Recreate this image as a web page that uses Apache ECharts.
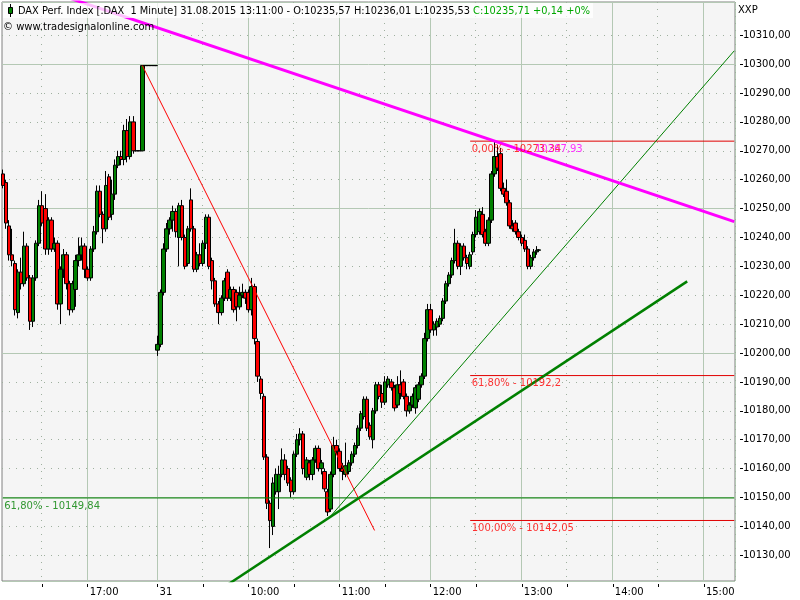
<!DOCTYPE html>
<html><head><meta charset="utf-8">
<script src="https://cdn.jsdelivr.net/npm/echarts@6/dist/echarts.min.js"></script>
<style>html,body{margin:0;padding:0;background:#fff}#c{width:800px;height:600px}</style>
</head><body><div id="c"></div>
<script>
// ---- time axis (two sessions, one category per minute) ----
const session1Start = '16:04', session1End = '17:45';
const session2Start = '09:00', session2End = '15:20';
const dayLabel = '31';
const majorTicks = ['17:00','09:00','10:00','11:00','12:00','13:00','14:00','15:00'];
const minorTicks = ['16:30','09:30','10:30','11:30','12:30','13:30','14:30'];
const yTickValues = [10130,10140,10150,10160,10170,10180,10190,10200,10210,10220,10230,10240,10250,10260,10270,10280,10290,10300,10310];
const yMin = 10121.1, yMax = 10321.5;

// ---- candles: [time, open, close, low, high] ----
const session1Bars = [
['16:04',10262,10258,10257,10263.5],['16:06',10259,10245,10243,10260],['16:08',10244,10234,10232,10246],
['16:10',10234,10232,10230,10243],['16:12',10231,10215,10213,10232],['16:14',10214,10228,10212,10229],
['16:16',10228,10224,10222,10233],['16:18',10224,10237,10223,10242],['16:20',10237,10226,10225,10238],
['16:22',10226,10211,10208,10227],['16:24',10211,10226,10209,10227],['16:26',10226,10238,10225,10239],
['16:28',10238,10251,10237,10253],['16:30',10251,10245,10244,10256],['16:32',10250,10236,10234,10255],
['16:34',10236,10246,10234,10247],['16:36',10246,10236,10235,10247],['16:38',10236,10238,10235,10240],
['16:40',10238,10217,10215,10239],['16:42',10217,10229,10210,10230],['16:44',10229,10234,10226,10236],
['16:46',10234,10224,10222,10235],['16:48',10224,10215,10213,10225],['16:50',10215,10224,10214,10225],
['16:52',10222,10232,10216,10234],['16:54',10232,10234,10230,10240],['16:56',10234,10237,10232,10240],
['16:58',10237,10229,10226,10238],['17:00',10229,10226,10225,10230],['17:02',10226,10236,10225,10237],
['17:04',10236,10242,10235,10244],['17:06',10242,10256,10241,10258],['17:08',10256,10248,10247,10258],
['17:10',10248,10243,10238,10249],['17:12',10243,10258,10242,10263],['17:14',10261,10247,10246,10262],
['17:16',10248,10255,10246,10260],['17:18',10255,10265,10253,10267],['17:20',10265,10268,10264,10270],
['17:22',10268,10267,10265,10270],['17:24',10267,10277,10265,10279],['17:26',10277,10268,10266,10281],
['17:28',10268,10280,10267,10282],['17:30',10280,10270,10269,10282],['17:32',10270,10270,10270,10270],
['17:34',10270,10270,10270,10270],['17:36',10270,10299.5,10270,10299.5],['17:38',10299.5,10299.5,10299.5,10299.5],
['17:40',10299.5,10299.5,10299.5,10299.5],['17:42',10299.5,10299.5,10299.5,10299.5],['17:44',10299.5,10299.5,10299.5,10299.5],
['17:45',10299.5,10299.5,10299.5,10299.5]
];
const session2Bars = [
['09:00',10201,10203,10199,10206],['09:02',10203,10221,10202,10222],['09:04',10221,10236,10220,10238],
['09:06',10236,10243,10235,10245],['09:08',10243,10246,10241,10247],['09:10',10246,10249,10242,10251],
['09:12',10249,10242,10240,10250],['09:14',10240,10251,10230,10252],['09:16',10251,10240,10239,10253],
['09:18',10240,10230,10229,10241],['09:20',10231,10243,10230,10244],['09:22',10253,10243,10242,10257],
['09:24',10243,10229,10228,10244],['09:26',10229,10234,10228,10235],['09:28',10234,10231,10230,10238],
['09:30',10231,10238,10230,10239],['09:32',10238,10247,10236,10248],['09:34',10247,10230,10229,10248],
['09:36',10232,10225,10222,10233],['09:38',10225,10217,10216,10226],['09:40',10217,10214,10210,10218],
['09:42',10214,10219,10213,10220],['09:44',10219,10225,10218,10226],['09:46',10228,10219,10218,10229],
['09:48',10219,10222,10218,10223],['09:50',10222,10215,10214,10223],['09:52',10221,10216,10211,10222],
['09:54',10216,10220,10215,10223],['09:56',10220,10221,10219,10224],['09:58',10221,10219,10217,10222],
['10:00',10221,10215,10214,10222],['10:02',10215,10223,10213,10226],['10:04',10223,10205,10203,10224],
['10:06',10204,10192,10190,10205],['10:08',10191,10186,10184,10192],['10:10',10185,10164,10163,10186],
['10:12',10164,10148,10146,10165],['10:14',10148,10142,10132.5,10149],['10:16',10140,10155,10137,10157],
['10:18',10152,10158,10151,10160],['10:20',10152,10158,10146,10161],['10:22',10158,10163,10157,10167],
['10:24',10163,10158,10156,10165],['10:26',10160,10155,10154,10161],['10:28',10156,10152,10150,10157],
['10:30',10152,10165,10151,10166],['10:32',10165,10170,10164,10172],['10:34',10170,10172,10168,10174],
['10:36',10172,10160,10158,10173],['10:38',10157,10163,10156,10164],['10:40',10162,10158,10156,10163],
['10:42',10158,10163,10156,10164],['10:44',10163,10167,10162,10168],['10:46',10167,10160,10159,10168],
['10:48',10160,10162,10158,10163],['10:50',10159,10153,10152,10160],['10:52',10152,10145,10143.6,10153],
['10:54',10146,10158,10145,10159],['10:56',10158,10168,10157,10171],['10:58',10168,10166,10165,10170],
['11:00',10166,10160,10159,10167],['11:02',10160,10159,10156,10162],['11:04',10158,10161,10157,10169],
['11:06',10159,10162,10158,10163],['11:08',10162,10165,10161,10166],['11:10',10165,10168,10164,10169],
['11:12',10168,10174,10167,10175],['11:14',10174,10179,10173,10180],['11:16',10178,10184,10177,10185],
['11:18',10184,10174,10173,10185],['11:20',10175,10171,10170,10176],['11:22',10170,10180,10167,10181],
['11:24',10180,10189,10179,10190],['11:26',10189,10185,10184,10190],['11:28',10186,10183,10181,10189],
['11:30',10183,10190,10182,10192],['11:32',10189,10191,10188,10192],['11:34',10190,10188,10187,10191],
['11:36',10188,10181,10180,10189],['11:38',10182,10189,10181,10192],['11:40',10189,10186,10184,10194],
['11:42',10190,10185,10184,10191],['11:44',10185,10180,10178,10186],['11:46',10180,10182,10179,10183],
['11:48',10182,10185,10181,10186],['11:50',10181,10188,10179,10189],['11:52',10184,10189,10183,10190],
['11:54',10189,10192,10188,10193],['11:56',10192,10205,10191,10207],['11:58',10205,10215,10204,10217],
['12:00',10215,10208,10207,10217],['12:02',10208,10210,10206,10211],['12:04',10209,10211,10206,10212],
['12:06',10210,10212,10209,10213],['12:08',10212,10218,10211,10219],['12:10',10218,10224,10217,10225],
['12:12',10224,10227,10223,10228],['12:14',10227,10232,10226,10233],['12:16',10232,10238,10231,10243],
['12:18',10238,10230,10229,10239],['12:20',10230,10237,10227,10238],['12:22',10237,10233,10232,10238],
['12:24',10233,10231,10229,10234],['12:26',10230,10234,10229,10235],['12:28',10235,10241,10234,10242],
['12:30',10241,10247,10240,10249.5],['12:32',10242,10249,10241,10250],['12:34',10248,10241,10240,10250.5],
['12:36',10242,10238,10237,10243],['12:38',10238,10246,10237,10247],['12:40',10246,10262,10245,10263],
['12:42',10262,10268,10261,10273.3],['12:44',10268,10264,10263,10272],['12:46',10269,10257,10256,10271],
['12:48',10257,10255,10254,10259],['12:50',10256,10252,10251,10260],['12:52',10252,10244,10243,10253],
['12:54',10244,10243,10242,10246],['12:56',10245,10242,10241,10246],['12:58',10242,10240,10239,10243],
['13:00',10240,10238,10237,10241],['13:02',10239,10236,10235,10241],['13:04',10236,10230,10229,10237],
['13:06',10230,10233,10229,10234],['13:08',10233,10235,10232,10236],['13:10',10235,10235.6,10234,10237],
['13:11',10235.57,10235.71,10235.53,10236.01]
];

// ---- drawn studies: [time, price] end points ----
const magentaTrend = [['16:34',10325.3],['15:20',10245.5]];
const redTrend = [['17:36',10299.5],['11:23',10138.6]];
const greenThinTrend = [['10:54',10143.5],['15:20',10304.6]];
const greenThickTrend = [['09:38',10117.0],['14:49',10224.8]];
const magentaValueText = '10267,93', magentaLabelAt = ['13:11', 10273.34];

const fibStart = '12:26', fibEnd = '15:20';
const fibValues = [10273.34, 10192.2, 10142.05];
const fibTexts = ['0,00% - 10273,34', '61,80% - 10192,2', '100,00% - 10142,05'];
const greenFibValue = 10149.84, greenFibText = '61,80% - 10149,84';
const greenFibStart = '16:04', greenFibEnd = '15:20';

const headerMain = 'DAX Perf. Index [.DAX  1 Minute] 31.08.2015 13:11:00 - O:10235,57 H:10236,01 L:10235,53 ';
const headerClose = 'C:10235,71 +0,14 +0%';
const copyrightText = '\u00A9 www.tradesignalonline.com';
const scaleName = 'XXP';

// ---- build ----
function buildMinutes(start, end) {
  const a = start.split(':').map(Number), b = end.split(':').map(Number);
  const out = [];
  for (let t = a[0]*60 + a[1]; t <= b[0]*60 + b[1]; t++) {
    out.push(String(Math.floor(t/60)).padStart(2,'0') + ':' + String(t%60).padStart(2,'0'));
  }
  return out;
}
const categories = buildMinutes(session1Start, session1End).concat(buildMinutes(session2Start, session2End));
const ci = t => categories.indexOf(t);
const majorSet = new Set(majorTicks), minorSet = new Set(minorTicks);
const tickSet = new Set(majorTicks.concat(minorTicks));
const FONT = 'DejaVu Sans';

const candleData = session1Bars.concat(session2Bars).map(b => [ci(b[0]), b[1], b[2], b[3], b[4]]);
const seg = pts => pts.map(p => [ci(p[0]), p[1]]);
function lineSeries(data, color, width) {
  return {type:'line', xAxisIndex:0, yAxisIndex:0, data:data, showSymbol:false, symbol:'none',
    silent:true, animation:false, lineStyle:{color:color, width:width}, z:3};
}
const series = [
  {type:'candlestick', xAxisIndex:0, yAxisIndex:0, data:candleData, encode:{x:0, y:[1,2,3,4]},
   barWidth:4, silent:true, animation:false,
   itemStyle:{color:'#008000', color0:'#ff0000', borderColor:'#000', borderColor0:'#000', borderColorDoji:'#000', borderWidth:1}, z:2}
];
series.push(lineSeries([[ci(greenFibStart), greenFibValue],[ci(greenFibEnd), greenFibValue]], '#008000', 1));
fibValues.forEach(v => series.push(lineSeries([[ci(fibStart), v],[ci(fibEnd), v]], '#e00000', 1)));
series.push(lineSeries(seg(redTrend), '#ff0000', 1));
series.push(lineSeries(seg(greenThinTrend), '#008000', 1));
series.push(lineSeries(seg(greenThickTrend), '#008000', 2.5));
series.push(lineSeries(seg(magentaTrend), '#ff00ff', 3));
function labelSeries(items, color) {
  return {type:'scatter', xAxisIndex:0, yAxisIndex:0, symbolSize:1, silent:true, animation:false,
    itemStyle:{color:'transparent'}, z:5,
    data: items.map(it => ({value:[ci(it[0]), it[1]], label:{formatter:it[2]}})),
    label:{show:true, position:'right', distance:0, offset:[1,8], color:color, fontFamily:FONT, fontSize:10}};
}
series.push(labelSeries(fibValues.map((v,i) => [fibStart, v, fibTexts[i]]), '#ff0000'));
series.push(labelSeries([[greenFibStart, greenFibValue, greenFibText]], '#008000'));
const magLbl = labelSeries([[magentaLabelAt[0], magentaLabelAt[1], magentaValueText]], '#ff00ff');
magLbl.label.offset = [-4, 8];
series.push(magLbl);

const chart = echarts.init(document.getElementById('c'), null, {renderer:'canvas'});
chart.setOption({
  animation:false,
  backgroundColor:'#ffffff',
  grid:{left:2, right:65, top:2, bottom:19, show:true, backgroundColor:'#f5f5f5', borderColor:'#808080', borderWidth:1, containLabel:false, outerBoundsMode:'none'},
  xAxis:[
    {type:'category', data:categories, boundaryGap:true, offset:3, position:'bottom',
     axisLine:{show:false},
     axisTick:{show:true, alignWithLabel:true, length:3, interval:(i,v)=>tickSet.has(v), lineStyle:{color:'#000'}},
     axisLabel:{show:true, interval:(i,v)=>majorSet.has(v), formatter:v => v === session2Start ? dayLabel : v,
       align:'left', padding:[0,0,0,2], margin:3, color:'#000', fontFamily:FONT, fontSize:10},
     splitLine:{show:true, interval:(i,v)=>majorSet.has(v), lineStyle:{color:'#b4c8b4', width:1}}},
    {type:'category', data:categories, boundaryGap:true, position:'top',
     axisLine:{show:false}, axisTick:{show:false}, axisLabel:{show:false},
     splitLine:{show:true, interval:(i,v)=>minorSet.has(v), lineStyle:{color:'#9fb09f', width:1, type:[1,6]}}}
  ],
  yAxis:[
    {type:'value', position:'right', min:yMin, max:yMax, splitNumber:20, minInterval:10, maxInterval:10, offset:5, scale:true,
     axisLine:{show:false},
     axisTick:{show:true, length:3, customValues:yTickValues, lineStyle:{color:'#000'}},
     axisLabel:{show:true, customValues:yTickValues, margin:3, color:'#000', fontFamily:FONT, fontSize:10,
       formatter:v => (yTickValues.indexOf(Math.round(v)) >= 0 && Math.abs(v - Math.round(v)) < 0.01) ? v.toFixed(2).replace('.', ',') : ''},
     splitLine:{show:true, lineStyle:{color:'#9fb09f', width:1, type:[1,6]}}},
    {type:'value', position:'right', min:yMin, max:yMax, splitNumber:4, minInterval:50, maxInterval:50, scale:true,
     axisLine:{show:false}, axisTick:{show:false}, axisLabel:{show:false},
     splitLine:{show:true, lineStyle:{color:'#b4c8b4', width:1}}}
  ],
  series:series,
  graphic:[
    {type:'rect', z:100, silent:true, shape:{x:3, y:3, width:590, height:15}, style:{fill:'rgba(255,255,255,0.75)'}},
    {type:'line', z:101, silent:true, shape:{x1:10.5, y1:4, x2:10.5, y2:17}, style:{stroke:'#000', lineWidth:1}},
    {type:'rect', z:102, silent:true, shape:{x:8.5, y:7.5, width:4, height:6}, style:{fill:'#008000', stroke:'#000', lineWidth:1}},
    {type:'text', z:103, silent:true, x:18, y:11,
     style:{text:'{b|' + headerMain + '}{g|' + headerClose + '}', verticalAlign:'middle', fontFamily:FONT, fontSize:9.8,
       rich:{b:{fill:'#000', fontFamily:FONT, fontSize:9.8}, g:{fill:'#00a800', fontFamily:FONT, fontSize:9.8}}}},
    {type:'text', z:103, silent:true, x:3, y:27, style:{text:copyrightText, verticalAlign:'middle', fill:'#000', fontFamily:FONT, fontSize:10}},
    {type:'text', z:103, silent:true, x:738, y:10, style:{text:scaleName, verticalAlign:'middle', fill:'#000', fontFamily:FONT, fontSize:10}}
  ]
});
</script>
</body></html>
